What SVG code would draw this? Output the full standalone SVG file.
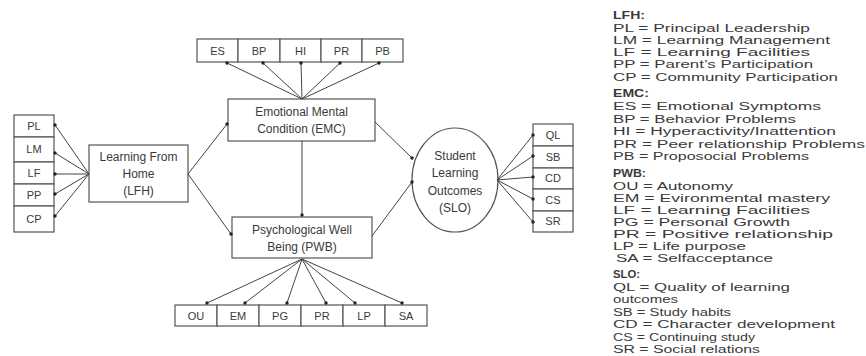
<svg xmlns="http://www.w3.org/2000/svg" width="866" height="356" viewBox="0 0 866 356">
<style>
.box{fill:#fff;stroke:#555;stroke-width:1.2}
.t{font-family:"Liberation Sans",Arial,sans-serif;font-size:12px;fill:#3a3a3a;text-anchor:middle}
.s{font-family:"Liberation Sans",Arial,sans-serif;font-size:11px;fill:#3a3a3a;text-anchor:middle}
.c line{stroke:#444;stroke-width:1;marker-end:url(#dot)}
.lg{font-family:"Liberation Sans",Arial,sans-serif;font-size:10px;fill:#3a3a3a}
.lh{font-weight:bold}
</style>
<defs>
<marker id="dot" viewBox="0 0 4 4" refX="2" refY="2" markerWidth="4" markerHeight="4" markerUnits="userSpaceOnUse">
<circle cx="2" cy="2" r="1.7" fill="#222"/>
</marker>
</defs>
<rect width="866" height="356" fill="#fff"/>

<g id="lfh-indicators">
<rect class="box" x="14" y="115" width="40" height="22"/>
<rect class="box" x="14" y="137" width="40" height="25"/>
<rect class="box" x="14" y="162" width="40" height="22"/>
<rect class="box" x="14" y="184" width="40" height="22"/>
<rect class="box" x="14" y="206" width="40" height="26"/>
<text class="s" x="34" y="130">PL</text>
<text class="s" x="34" y="153">LM</text>
<text class="s" x="34" y="177">LF</text>
<text class="s" x="34" y="199">PP</text>
<text class="s" x="34" y="223">CP</text>
</g>

<g id="lfh">
<rect class="box" x="89" y="145" width="99" height="57"/>
<text class="t" x="138.5" y="161">Learning From</text>
<text class="t" x="138.5" y="178">Home</text>
<text class="t" x="138.5" y="195">(LFH)</text>
</g>

<g id="emc-indicators">
<rect class="box" x="197" y="39" width="41" height="23"/>
<rect class="box" x="238" y="39" width="42" height="23"/>
<rect class="box" x="280" y="39" width="41" height="23"/>
<rect class="box" x="321" y="39" width="41" height="23"/>
<rect class="box" x="362" y="39" width="41" height="23"/>
<text class="s" x="217.5" y="55">ES</text>
<text class="s" x="259" y="55">BP</text>
<text class="s" x="300.5" y="55">HI</text>
<text class="s" x="341.5" y="55">PR</text>
<text class="s" x="382.5" y="55">PB</text>
</g>

<g id="emc">
<rect class="box" x="228" y="99" width="147" height="42"/>
<text class="t" x="301.5" y="116">Emotional Mental</text>
<text class="t" x="301.5" y="133">Condition (EMC)</text>
</g>

<g id="pwb">
<rect class="box" x="232" y="217" width="140" height="41"/>
<text class="t" x="302" y="234">Psychological Well</text>
<text class="t" x="302" y="251">Being (PWB)</text>
</g>

<g id="pwb-indicators">
<rect class="box" x="175" y="305" width="42" height="21"/>
<rect class="box" x="217" y="305" width="42" height="21"/>
<rect class="box" x="259" y="305" width="42" height="21"/>
<rect class="box" x="301" y="305" width="42" height="21"/>
<rect class="box" x="343" y="305" width="42" height="21"/>
<rect class="box" x="385" y="305" width="42" height="21"/>
<text class="s" x="196" y="320">OU</text>
<text class="s" x="238" y="320">EM</text>
<text class="s" x="280" y="320">PG</text>
<text class="s" x="322" y="320">PR</text>
<text class="s" x="364" y="320">LP</text>
<text class="s" x="406" y="320">SA</text>
</g>

<g id="slo">
<ellipse cx="455" cy="180" rx="43" ry="52" fill="#fff" stroke="#555" stroke-width="1.2"/>
<text class="t" x="455" y="160">Student</text>
<text class="t" x="455" y="177">Learning</text>
<text class="t" x="455" y="195">Outcomes</text>
<text class="t" x="455" y="212">(SLO)</text>
</g>

<g id="slo-indicators">
<rect class="box" x="533" y="124" width="40" height="22"/>
<rect class="box" x="533" y="146" width="40" height="22"/>
<rect class="box" x="533" y="168" width="40" height="21"/>
<rect class="box" x="533" y="189" width="40" height="22"/>
<rect class="box" x="533" y="211" width="40" height="21"/>
<text class="s" x="553" y="139">QL</text>
<text class="s" x="553" y="161">SB</text>
<text class="s" x="553" y="182">CD</text>
<text class="s" x="553" y="204">CS</text>
<text class="s" x="553" y="225">SR</text>
</g>

<g id="connectors" class="c">
<line x1="89" y1="174" x2="55" y2="125"/>
<line x1="89" y1="174" x2="55" y2="153"/>
<line x1="89" y1="174" x2="55" y2="174"/>
<line x1="89" y1="174" x2="55" y2="194"/>
<line x1="89" y1="174" x2="55" y2="216"/>
<line x1="188" y1="174" x2="227" y2="124"/>
<line x1="188" y1="174" x2="231" y2="234"/>
<line x1="302" y1="99" x2="227" y2="63"/>
<line x1="302" y1="99" x2="263" y2="63"/>
<line x1="302" y1="99" x2="301" y2="63"/>
<line x1="302" y1="99" x2="340" y2="63"/>
<line x1="302" y1="99" x2="379" y2="63"/>
<line x1="302" y1="141" x2="302" y2="215"/>
<line x1="375" y1="122" x2="412" y2="158"/>
<line x1="372" y1="236" x2="412" y2="182"/>
<line x1="302" y1="259" x2="207" y2="303"/>
<line x1="302" y1="259" x2="245" y2="303"/>
<line x1="302" y1="259" x2="287" y2="303"/>
<line x1="302" y1="259" x2="326" y2="303"/>
<line x1="302" y1="259" x2="355" y2="303"/>
<line x1="302" y1="259" x2="402" y2="303"/>
<line x1="497" y1="180" x2="533" y2="135"/>
<line x1="497" y1="180" x2="533" y2="156"/>
<line x1="497" y1="180" x2="533" y2="177"/>
<line x1="497" y1="180" x2="533" y2="199"/>
<line x1="497" y1="180" x2="533" y2="222"/>
</g>

<g id="legend">
<text class="lg lh" x="613" y="19" textLength="32" lengthAdjust="spacingAndGlyphs">LFH:</text>
<text class="lg" x="613" y="32" textLength="197" lengthAdjust="spacingAndGlyphs">PL = Principal Leadership</text>
<text class="lg" x="613" y="44" textLength="217" lengthAdjust="spacingAndGlyphs">LM = Learning Management</text>
<text class="lg" x="613" y="56" textLength="197" lengthAdjust="spacingAndGlyphs">LF = Learning Facilities</text>
<text class="lg" x="613" y="68" textLength="200" lengthAdjust="spacingAndGlyphs">PP = Parent’s Participation</text>
<text class="lg" x="613" y="81" textLength="225" lengthAdjust="spacingAndGlyphs">CP = Community Participation</text>
<text class="lg lh" x="613" y="97" textLength="36" lengthAdjust="spacingAndGlyphs">EMC:</text>
<text class="lg" x="613" y="110" textLength="208" lengthAdjust="spacingAndGlyphs">ES = Emotional Symptoms</text>
<text class="lg" x="613" y="123" textLength="183" lengthAdjust="spacingAndGlyphs">BP = Behavior Problems</text>
<text class="lg" x="613" y="135" textLength="223" lengthAdjust="spacingAndGlyphs">HI = Hyperactivity/Inattention</text>
<text class="lg" x="613" y="148" textLength="252" lengthAdjust="spacingAndGlyphs">PR = Peer relationship Problems</text>
<text class="lg" x="613" y="160" textLength="196" lengthAdjust="spacingAndGlyphs">PB = Proposocial Problems</text>
<text class="lg lh" x="613" y="177" textLength="33" lengthAdjust="spacingAndGlyphs">PWB:</text>
<text class="lg" x="613" y="190" textLength="120" lengthAdjust="spacingAndGlyphs">OU = Autonomy</text>
<text class="lg" x="613" y="202" textLength="217" lengthAdjust="spacingAndGlyphs">EM = Evironmental mastery</text>
<text class="lg" x="613" y="214" textLength="197" lengthAdjust="spacingAndGlyphs">LF = Learning Facilities</text>
<text class="lg" x="613" y="226" textLength="177" lengthAdjust="spacingAndGlyphs">PG = Personal Growth</text>
<text class="lg" x="613" y="238" textLength="220" lengthAdjust="spacingAndGlyphs">PR = Positive relationship</text>
<text class="lg" x="613" y="250" textLength="133" lengthAdjust="spacingAndGlyphs">LP = Life purpose</text>
<text class="lg" x="616" y="262" textLength="157" lengthAdjust="spacingAndGlyphs">SA = Selfacceptance</text>
<text class="lg lh" x="613" y="278" textLength="27" lengthAdjust="spacingAndGlyphs">SLO:</text>
<text class="lg" x="613" y="291" textLength="177" lengthAdjust="spacingAndGlyphs">QL = Quality of learning</text>
<text class="lg" x="613" y="303" textLength="65" lengthAdjust="spacingAndGlyphs">outcomes</text>
<text class="lg" x="613" y="316" textLength="118" lengthAdjust="spacingAndGlyphs">SB = Study habits</text>
<text class="lg" x="613" y="328" textLength="222" lengthAdjust="spacingAndGlyphs">CD = Character development</text>
<text class="lg" x="613" y="341" textLength="142" lengthAdjust="spacingAndGlyphs">CS = Continuing study</text>
<text class="lg" x="613" y="353" textLength="147" lengthAdjust="spacingAndGlyphs">SR = Social relations</text>
</g>
</svg>
